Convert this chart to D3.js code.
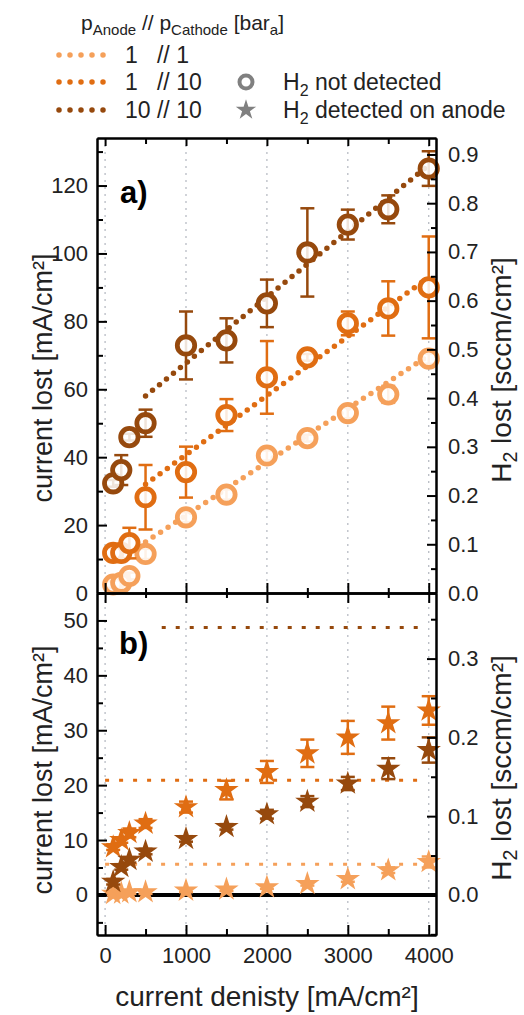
<!DOCTYPE html>
<html>
<head>
<meta charset="utf-8">
<script src="https://cdn.jsdelivr.net/npm/d3@7"></script>
<style>
  body { margin: 0; background: #fff; }
  svg { font-family: "Liberation Sans", Arial, sans-serif; }
</style>
</head>
<body>
<svg id="chart" width="524" height="1015"></svg>
<script>
// current density steps [mA/cm2]
const currents = [100, 200, 300, 500, 1000, 1500, 2000, 2500, 3000, 3500, 4000];

// panel a) H2 not detected, current lost [mA/cm2]
const lostA_1_1   = [2.5, 3, 5, 11.5, 22.3, 29, 40.5, 45.6, 53, 58.5, 69];
const errA_1_1    = [1, 1, 1, 1.5, 1.5, 1.5, 1.5, 1, 1.5, 2.5, 1.5];
const lostA_1_10  = [11.8, 11.8, 14.7, 28.2, 35.6, 52.4, 63.5, 69.4, 79.4, 83.8, 90];
const errA_1_10   = [1.5, 1.5, 4.5, 9.5, 7.5, 4.7, 10.7, 1, 3.5, 8, 15];
const lostA_10_10 = [32.3, 36.2, 45.9, 50, 72.9, 74.4, 85.3, 100.3, 108.5, 113, 125];
const errA_10_10  = [1, 4.4, 1, 4, 10, 6.5, 7, 13, 4.4, 4.1, 5.1];

// linear fits (start / end current)
const fitCurrents = [500, 4000];
const fit_1_1   = [15, 70];
const fit_1_10  = [32, 93];
const fit_10_10 = [58, 126];

// panel b) H2 detected on anode
const lostB_1_1   = [0.2, 0.3, 0.5, 0.5, 0.8, 1.0, 1.4, 2.0, 2.9, 4.5, 6.0];
const errB_1_1    = [0.3, 0.3, 0.3, 0.3, 0.3, 0.3, 0.3, 0.3, 0.5, 0.5, 1];
const lostB_1_10  = [8.7, 10, 11.3, 13, 16, 19.1, 22.4, 25.8, 28.7, 31.3, 33.6];
const errB_1_10   = [0.5, 0.5, 0.8, 0.8, 1, 1.7, 2, 2.5, 3, 3, 2.6];
const lostB_10_10 = [2.4, 5.1, 6.4, 7.9, 10.2, 12.4, 14.7, 17, 20.3, 23, 26.4];
const errB_10_10  = [0.5, 0.5, 0.5, 0.5, 0.5, 0.5, 0.8, 1, 1.2, 1.9, 2.3];

// detection limits in panel b (value, start current)
const limitValues = [5.6, 20.9, 48.7];
const limitStart  = [0, 0, 700];
const limitEnd    = 3950;

const seriesNames = ["1   // 1", "1   // 10", "10 // 10"];
const colors = ["#f5a05a", "#e06d12", "#96490d"];

const xTicks = [0, 1000, 2000, 3000, 4000];
const xMinor = [500, 1500, 2500, 3500];
const yTicksA = [0, 20, 40, 60, 80, 100, 120];
const yMinorA = [10, 30, 50, 70, 90, 110, 130];
const yTicksB = [0, 10, 20, 30, 40, 50];
const yMinorB = [-5, 5, 15, 25, 35, 45, 55];
const rTicksA = [0, 0.1, 0.2, 0.3, 0.4, 0.5, 0.6, 0.7, 0.8, 0.9];
const rMinorA = [0.05, 0.15, 0.25, 0.35, 0.45, 0.55, 0.65, 0.75, 0.85];
const rTicksB = [0, 0.1, 0.2, 0.3];
const rMinorB = [-0.05, 0.05, 0.15, 0.25, 0.35];

const mAperSccm = 143.5; // 1 sccm H2 = 143.5 mA

const svg = d3.select("#chart");

const x = d3.scaleLinear().domain([-100, 4090]).range([97, 436]);
const yA = d3.scaleLinear().domain([0, 134]).range([593, 138]);
const yB = d3.scaleLinear().domain([-7.3, 55]).range([935, 593]);
const yAr = d3.scaleLinear().domain(yA.domain().map(v => v / mAperSccm)).range(yA.range());
const yBr = d3.scaleLinear().domain(yB.domain().map(v => v / mAperSccm)).range(yB.range());

const left = x.range()[0], right = x.range()[1];

// grid
[[yA, 138, 593], [yB, 593, 935]].forEach(([s, t, b]) => {
  svg.append("g").selectAll("line").data(xTicks).join("line")
    .attr("x1", d => x(d)).attr("x2", d => x(d))
    .attr("y1", t).attr("y2", b)
    .attr("stroke", "#b8bcc4").attr("stroke-width", 1.3)
    .attr("stroke-dasharray", "2,5");
});

// zero line panel b
svg.append("line")
  .attr("x1", left).attr("x2", right)
  .attr("y1", yB(0)).attr("y2", yB(0))
  .attr("stroke", "#000").attr("stroke-width", 4);

// detection limits
svg.append("g").selectAll("line").data(limitValues).join("line")
  .attr("x1", (d, i) => x(limitStart[i])).attr("x2", x(limitEnd))
  .attr("y1", d => yB(d)).attr("y2", d => yB(d))
  .attr("stroke", (d, i) => colors[i]).attr("stroke-width", 3)
  .attr("stroke-dasharray", "4,10");

// fits
const fitLine = d3.line().x(d => x(d[0])).y(d => yA(d[1]));
[fit_1_1, fit_1_10, fit_10_10].forEach((f, i) => {
  svg.append("path")
    .attr("d", fitLine(fitCurrents.map((c, k) => [c, f[k]])))
    .attr("fill", "none")
    .attr("stroke", colors[i]).attr("stroke-width", 5.5)
    .attr("stroke-linecap", "round")
    .attr("stroke-dasharray", "0,9");
});

function errorBars(g, ys, errs, scale, color) {
  const eb = g.append("g").attr("stroke", color).attr("stroke-width", 2.5);
  currents.forEach((c, i) => {
    const cx = x(c), y1 = scale(ys[i] - errs[i]), y2 = scale(ys[i] + errs[i]);
    eb.append("line").attr("x1", cx).attr("x2", cx).attr("y1", y1).attr("y2", y2);
    eb.append("line").attr("x1", cx - 7).attr("x2", cx + 7).attr("y1", y1).attr("y2", y1);
    eb.append("line").attr("x1", cx - 7).attr("x2", cx + 7).attr("y1", y2).attr("y2", y2);
  });
}

// panel a points
[[lostA_1_1, errA_1_1], [lostA_1_10, errA_1_10], [lostA_10_10, errA_10_10]].forEach(([v, e], i) => {
  const g = svg.append("g");
  errorBars(g, v, e, yA, colors[i]);
  g.selectAll("circle").data(v).join("circle")
    .attr("cx", (d, k) => x(currents[k])).attr("cy", d => yA(d))
    .attr("r", 8.7)
    .attr("fill", "#fff").attr("fill-opacity", 0.85)
    .attr("stroke", colors[i]).attr("stroke-width", 4.8);
});

// panel b stars
const star = d3.symbol().type(d3.symbolStar).size(185);
[[lostB_1_1, errB_1_1], [lostB_1_10, errB_1_10], [lostB_10_10, errB_10_10]].forEach(([v, e], i) => {
  const g = svg.append("g");
  errorBars(g, v, e, yB, colors[i]);
  g.selectAll("path.star").data(v).join("path")
    .attr("class", "star")
    .attr("d", star)
    .attr("transform", (d, k) => `translate(${x(currents[k])},${yB(d)})`)
    .attr("fill", colors[i]);
});

// axes
function styleAxis(g) {
  g.selectAll("path.domain").attr("stroke", "#000").attr("stroke-width", 2);
  g.selectAll(".tick line").attr("stroke", "#000").attr("stroke-width", 2);
  g.selectAll(".tick text").attr("font-size", 22).attr("fill", "#222")
    .attr("font-family", "Liberation Sans, Arial, sans-serif");
}
function addAxis(axis, tx, ty) {
  const g = svg.append("g").attr("transform", `translate(${tx},${ty})`).call(axis);
  styleAxis(g);
  return g;
}
const none = () => "";

// left axes
addAxis(d3.axisLeft(yA).tickValues(yTicksA).tickSize(-10).tickSizeOuter(0).tickPadding(9), left, 0);
addAxis(d3.axisLeft(yA).tickValues(yMinorA).tickSize(-6).tickSizeOuter(0).tickFormat(none), left, 0);
addAxis(d3.axisLeft(yB).tickValues(yTicksB).tickSize(-10).tickSizeOuter(0).tickPadding(9), left, 0);
addAxis(d3.axisLeft(yB).tickValues(yMinorB).tickSize(-6).tickSizeOuter(0).tickFormat(none), left, 0);

// right axes
const fmt = d3.format(".1f");
addAxis(d3.axisRight(yAr).tickValues(rTicksA).tickSize(-9).tickSizeOuter(0).tickPadding(12).tickFormat(fmt), right, 0);
addAxis(d3.axisRight(yAr).tickValues(rMinorA).tickSize(-5).tickSizeOuter(0).tickFormat(none), right, 0);
addAxis(d3.axisRight(yBr).tickValues(rTicksB).tickSize(-9).tickSizeOuter(0).tickPadding(12).tickFormat(fmt), right, 0);
addAxis(d3.axisRight(yBr).tickValues(rMinorB).tickSize(-5).tickSizeOuter(0).tickFormat(none), right, 0);

// top of panel a
addAxis(d3.axisTop(x).tickValues(xTicks).tickSize(-8).tickSizeOuter(0).tickFormat(none), 0, 138);
addAxis(d3.axisTop(x).tickValues(xMinor).tickSize(-6).tickSizeOuter(0).tickFormat(none), 0, 138);
// shared middle line
addAxis(d3.axisTop(x).tickValues(xTicks).tickSize(10).tickSizeOuter(0).tickFormat(none), 0, 593);
addAxis(d3.axisBottom(x).tickValues(xTicks).tickSize(10).tickSizeOuter(0).tickFormat(none), 0, 593);
addAxis(d3.axisTop(x).tickValues(xMinor).tickSize(5).tickSizeOuter(0).tickFormat(none), 0, 593);
addAxis(d3.axisBottom(x).tickValues(xMinor).tickSize(5).tickSizeOuter(0).tickFormat(none), 0, 593);
// bottom of panel b
addAxis(d3.axisBottom(x).tickValues(xTicks).tickSize(-10).tickSizeOuter(0).tickPadding(12).tickFormat(d3.format("d")), 0, 935);
addAxis(d3.axisBottom(x).tickValues(xMinor).tickSize(-6).tickSizeOuter(0).tickFormat(none), 0, 935);

// panel labels
svg.append("text").attr("x", 120).attr("y", 203).attr("font-size", 31).attr("font-weight", "bold").text("a)");
svg.append("text").attr("x", 119).attr("y", 654).attr("font-size", 31).attr("font-weight", "bold").text("b)");

// axis titles
function vTitle(cx, cy, rot, parts, size) {
  const t = svg.append("text")
    .attr("transform", `translate(${cx},${cy}) rotate(${rot})`)
    .attr("text-anchor", "middle").attr("font-size", size).attr("fill", "#222");
  parts.forEach(p => {
    const ts = t.append("tspan").text(p.t);
    if (p.sub) ts.attr("font-size", size * 0.7).attr("dy", size * 0.22);
    if (p.after) ts.attr("dy", -size * 0.22);
  });
  return t;
}
vTitle(52, 378, -90, [{ t: "current lost [mA/cm²]" }], 27);
vTitle(52, 770, -90, [{ t: "current lost [mA/cm²]" }], 27);
vTitle(511, 370, -90, [{ t: "H" }, { t: "2", sub: true }, { t: " lost [sccm/cm²]", after: true }], 28);
vTitle(511, 768, -90, [{ t: "H" }, { t: "2", sub: true }, { t: " lost [sccm/cm²]", after: true }], 28);

svg.append("text").attr("x", 267).attr("y", 1006).attr("text-anchor", "middle")
  .attr("font-size", 28).attr("fill", "#222").text("current denisty [mA/cm²]");

// legend
const lg = svg.append("g").attr("fill", "#222");
const head = lg.append("text").attr("x", 81).attr("y", 30).attr("font-size", 21);
head.append("tspan").text("p");
head.append("tspan").text("Anode").attr("font-size", 15).attr("dy", 5);
head.append("tspan").text("  // p").attr("dy", -5);
head.append("tspan").text("Cathode").attr("font-size", 15).attr("dy", 5);
head.append("tspan").text(" [bar").attr("dy", -5);
head.append("tspan").text("a").attr("font-size", 15).attr("dy", 5);
head.append("tspan").text("]").attr("dy", -5);

const rowY = [55, 82, 110];
seriesNames.forEach((n, i) => {
  lg.append("line")
    .attr("x1", 59).attr("x2", 114).attr("y1", rowY[i]).attr("y2", rowY[i])
    .attr("stroke", colors[i]).attr("stroke-width", 5.5)
    .attr("stroke-linecap", "round").attr("stroke-dasharray", "0,11");
  lg.append("text").attr("x", 125).attr("y", rowY[i] + 8).attr("font-size", 23)
    .attr("xml:space", "preserve").style("white-space", "pre").text(n);
});

lg.append("circle").attr("cx", 246).attr("cy", rowY[1]).attr("r", 6.5)
  .attr("fill", "none").attr("stroke", "#808080").attr("stroke-width", 4);
lg.append("path").attr("d", d3.symbol().type(d3.symbolStar).size(130))
  .attr("transform", `translate(246,${rowY[2]})`).attr("fill", "#808080");

[["H", "2", " not detected"], ["H", "2", " detected on anode"]].forEach((p, i) => {
  const t = lg.append("text").attr("x", 283).attr("y", rowY[i + 1] + 8).attr("font-size", 23);
  t.append("tspan").text(p[0]);
  t.append("tspan").text(p[1]).attr("font-size", 16).attr("dy", 6);
  t.append("tspan").text(p[2]).attr("dy", -6);
});
</script>
</body>
</html>
